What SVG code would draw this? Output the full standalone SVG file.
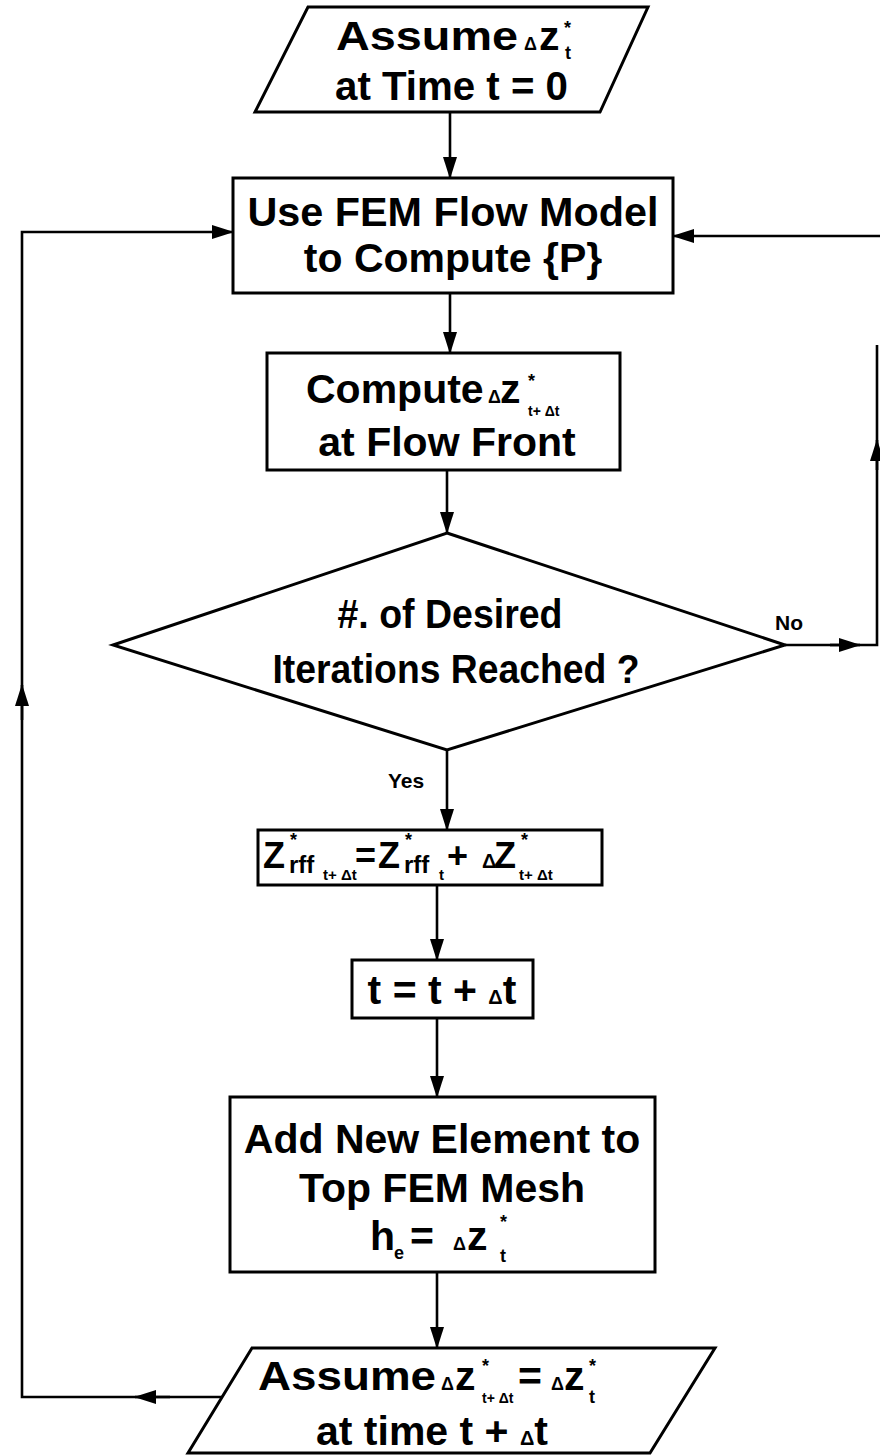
<svg xmlns="http://www.w3.org/2000/svg" width="880" height="1456" viewBox="0 0 880 1456">
<style>
.shape{fill:#fff;stroke:#000;stroke-width:3}
.conn{fill:none;stroke:#000;stroke-width:2.6}
text{font-family:"Liberation Sans",Arial,sans-serif;font-weight:bold;fill:#000}
.big{font-size:41px}
.sm{font-size:18px}
.lbl{font-size:21px}
</style>
<defs>
<marker id="ah" viewBox="0 0 22 14" refX="21" refY="7" markerWidth="22" markerHeight="14" markerUnits="userSpaceOnUse" orient="auto">
<path d="M0,0 L22,7 L0,14 z" fill="#000"/>
</marker>
</defs>
<rect width="880" height="1456" fill="#fff"/>
<g id="connectors">
<line class="conn" x1="450" y1="112" x2="450" y2="178" marker-end="url(#ah)"/>
<line class="conn" x1="450" y1="293" x2="450" y2="353" marker-end="url(#ah)"/>
<line class="conn" x1="447" y1="470" x2="447" y2="533" marker-end="url(#ah)"/>
<line class="conn" x1="447" y1="750" x2="447" y2="830" marker-end="url(#ah)"/>
<line class="conn" x1="437" y1="885" x2="437" y2="960" marker-end="url(#ah)"/>
<line class="conn" x1="437" y1="1018" x2="437" y2="1097" marker-end="url(#ah)"/>
<line class="conn" x1="437" y1="1272" x2="437" y2="1348" marker-end="url(#ah)"/>
<path class="conn" d="M785,645 L877,645 L877,345"/>
<line class="conn" x1="830" y1="645" x2="860" y2="645" marker-end="url(#ah)"/>
<line class="conn" x1="877" y1="470" x2="877" y2="440" marker-end="url(#ah)"/>
<line class="conn" x1="880" y1="236" x2="673" y2="236" marker-end="url(#ah)"/>
<path class="conn" d="M222,1397 L22,1397 L22,232 L233,232" marker-end="url(#ah)"/>
<line class="conn" x1="170" y1="1397" x2="135" y2="1397" marker-end="url(#ah)"/>
<line class="conn" x1="22" y1="720" x2="22" y2="685" marker-end="url(#ah)"/>
<text class="lbl" x="775" y="630">No</text>
<text class="lbl" x="388" y="788">Yes</text>
</g>
<g id="start">
<polygon class="shape" points="308,7 648,7 600,112 255,112"/>
<text class="big"><tspan x="336" y="50" textLength="182" lengthAdjust="spacingAndGlyphs">Assume</tspan><tspan class="sm" x="524" y="50">Δ</tspan><tspan x="539" y="50">z</tspan><tspan class="sm" x="564" y="34">*</tspan><tspan class="sm" x="565" y="59">t</tspan></text>
<text class="big" x="335" y="100" textLength="233" lengthAdjust="spacingAndGlyphs">at Time t = 0</text>
</g>
<g id="fem">
<rect class="shape" x="233" y="178" width="440" height="115"/>
<text class="big" x="453" y="226" text-anchor="middle" textLength="411" lengthAdjust="spacingAndGlyphs">Use FEM Flow Model</text>
<text class="big" x="453" y="272" text-anchor="middle">to Compute {P}</text>
</g>
<g id="compute">
<rect class="shape" x="267" y="353" width="353" height="117"/>
<text class="big"><tspan x="306" y="403">Compute</tspan><tspan class="sm" x="488" y="403">Δ</tspan><tspan x="500" y="403">z</tspan><tspan class="sm" x="528" y="387">*</tspan><tspan font-size="14" x="528" y="416">t+ Δt</tspan></text>
<text class="big" x="447" y="456" text-anchor="middle">at Flow Front</text>
</g>
<g id="decision">
<polygon class="shape" points="447,533 785,645 447,750 113,645"/>
<text class="big" x="450" y="628" text-anchor="middle" textLength="225" lengthAdjust="spacingAndGlyphs">#. of Desired</text>
<text class="big" x="456" y="683" text-anchor="middle" textLength="367" lengthAdjust="spacingAndGlyphs">Iterations Reached ?</text>
</g>
<g id="update">
<rect class="shape" x="258" y="830" width="344" height="55"/>
<text font-size="36"><tspan x="263" y="868">Z</tspan><tspan class="sm" x="290" y="846">*</tspan><tspan font-size="24" x="289" y="873">rff</tspan><tspan font-size="15" x="323" y="880">t+ Δt</tspan><tspan x="355" y="868">=</tspan><tspan x="378" y="868">Z</tspan><tspan class="sm" x="405" y="846">*</tspan><tspan font-size="24" x="404" y="873">rff</tspan><tspan font-size="15" x="439" y="880">t</tspan><tspan x="447" y="868">+</tspan><tspan font-size="20" x="482" y="868">Δ</tspan><tspan x="494" y="868">Z</tspan><tspan class="sm" x="521" y="846">*</tspan><tspan font-size="15" x="519" y="880">t+ Δt</tspan></text>
</g>
<g id="time">
<rect class="shape" x="352" y="960" width="181" height="58"/>
<text class="big" x="442" y="1004" text-anchor="middle">t = t + <tspan font-size="20">Δ</tspan>t</text>
</g>
<g id="add">
<rect class="shape" x="230" y="1097" width="425" height="175"/>
<text class="big" x="442" y="1153" text-anchor="middle">Add New Element to</text>
<text class="big" x="442" y="1202" text-anchor="middle">Top FEM Mesh</text>
<text class="big"><tspan x="370" y="1250">h</tspan><tspan font-size="18" x="394" y="1259">e</tspan><tspan x="410" y="1250">=</tspan><tspan class="sm" x="453" y="1250">Δ</tspan><tspan x="467" y="1250">z</tspan><tspan class="sm" x="500" y="1228">*</tspan><tspan class="sm" x="500" y="1262">t</tspan></text>
</g>
<g id="assume-next">
<polygon class="shape" points="252,1348 715,1348 650,1453 188,1453"/>
<text class="big"><tspan x="258" y="1390" textLength="178" lengthAdjust="spacingAndGlyphs">Assume</tspan><tspan class="sm" x="441" y="1390">Δ</tspan><tspan x="455" y="1390">z</tspan><tspan class="sm" x="482" y="1372">*</tspan><tspan font-size="14" x="482" y="1403">t+ Δt</tspan><tspan x="518" y="1390">=</tspan><tspan class="sm" x="551" y="1390">Δ</tspan><tspan x="564" y="1390">z</tspan><tspan class="sm" x="589" y="1372">*</tspan><tspan class="sm" x="589" y="1403">t</tspan></text>
<text class="big" x="432" y="1445" text-anchor="middle">at time t + <tspan font-size="20">Δ</tspan>t</text>
</g>
</svg>
